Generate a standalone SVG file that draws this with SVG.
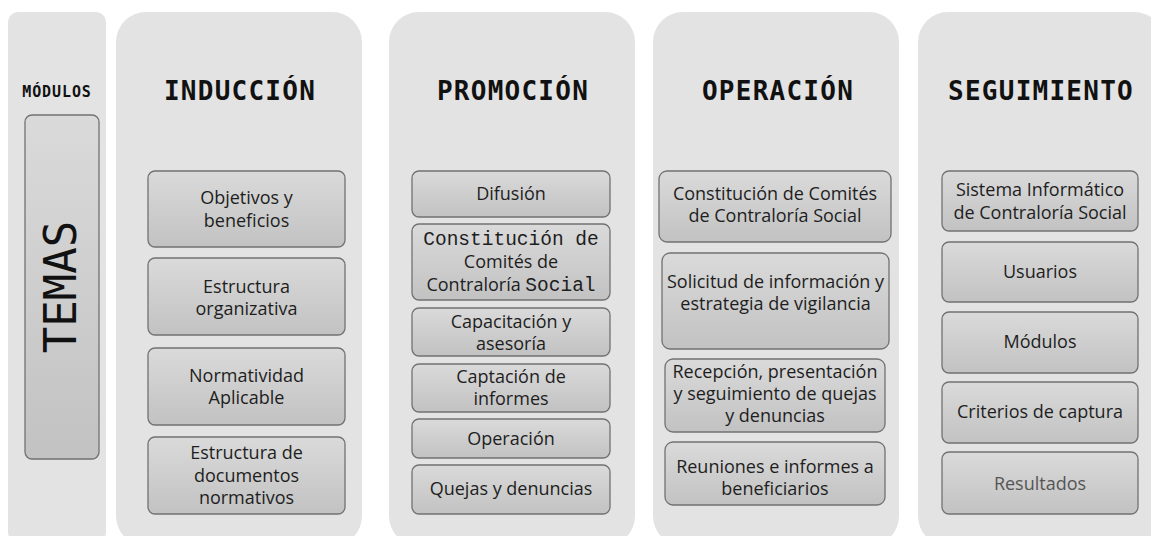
<svg xmlns="http://www.w3.org/2000/svg" width="1151" height="536" viewBox="0 0 1151 536">
<defs>
<linearGradient id="boxg" x1="0" y1="0" x2="0" y2="1">
<stop offset="0" stop-color="#dadada"/>
<stop offset="1" stop-color="#c2c2c2"/>
</linearGradient>
<style>
.panel{fill:#e3e3e3;}
.box{fill:url(#boxg);stroke:#727272;stroke-width:1.3;}
.hdr{font-family:"DejaVu Sans Mono","Liberation Mono",monospace;font-weight:bold;font-size:26px;letter-spacing:1.25px;fill:#111;text-anchor:middle;}
.mod{font-family:"DejaVu Sans Mono","Liberation Mono",monospace;font-weight:bold;font-size:15px;letter-spacing:0.9px;fill:#111;text-anchor:middle;}
.temas{font-family:"DejaVu Sans Mono","Liberation Mono",monospace;font-size:44px;fill:#111;text-anchor:middle;}
.t{font-family:"Open Sans","Noto Sans","Liberation Sans",sans-serif;font-size:18px;fill:#1e1e1e;text-anchor:middle;}
.m{font-family:"Liberation Mono","DejaVu Sans Mono",monospace;font-size:19.5px;}
.grey{fill:#555;}
</style>
</defs>
<rect width="1151" height="536" fill="#ffffff"/>

<g id="modulos">
<rect class="panel" x="8" y="12" width="98" height="530" rx="10"/>
<text class="mod" x="57" y="97">MÓDULOS</text>
<g id="temas">
<rect class="box" x="25" y="115" width="74" height="344" rx="7"/>
<text class="temas" transform="translate(76,287) rotate(-90)">TEMAS</text>
</g>
</g>

<g id="induccion">
<rect class="panel" x="116" y="12" width="246" height="534" rx="30"/>
<text class="hdr" x="240" y="100">INDUCCIÓN</text>
<g id="ind1"><rect class="box" x="148" y="171" width="197" height="76" rx="7"/>
<text class="t" x="246.5" y="204">Objetivos y</text><text class="t" x="246.5" y="227">beneficios</text></g>
<g id="ind2"><rect class="box" x="148" y="258" width="197" height="77" rx="7"/>
<text class="t" x="246.5" y="293">Estructura</text><text class="t" x="246.5" y="315">organizativa</text></g>
<g id="ind3"><rect class="box" x="148" y="348" width="197" height="77" rx="7"/>
<text class="t" x="246.5" y="382">Normatividad</text><text class="t" x="246.5" y="404">Aplicable</text></g>
<g id="ind4"><rect class="box" x="148" y="437" width="197" height="77" rx="7"/>
<text class="t" x="246.5" y="459">Estructura de</text><text class="t" x="246.5" y="482">documentos</text><text class="t" x="246.5" y="504">normativos</text></g>
</g>

<g id="promocion">
<rect class="panel" x="389" y="12" width="246" height="534" rx="30"/>
<text class="hdr" x="513" y="100">PROMOCIÓN</text>
<g id="pro1"><rect class="box" x="412" y="171" width="198" height="46" rx="7"/>
<text class="t" x="511" y="200">Difusión</text></g>
<g id="pro2"><rect class="box" x="412" y="224" width="198" height="76" rx="7"/>
<text class="t m" x="511" y="245">Constitución de</text>
<text class="t" x="511" y="268">Comités de</text>
<text class="t" x="511" y="291">Contraloría <tspan class="m">Social</tspan></text></g>
<g id="pro3"><rect class="box" x="412" y="308" width="198" height="48" rx="7"/>
<text class="t" x="511" y="328">Capacitación y</text><text class="t" x="511" y="350">asesoría</text></g>
<g id="pro4"><rect class="box" x="412" y="364" width="198" height="48" rx="7"/>
<text class="t" x="511" y="383">Captación de</text><text class="t" x="511" y="405">informes</text></g>
<g id="pro5"><rect class="box" x="412" y="419" width="198" height="39" rx="7"/>
<text class="t" x="511" y="445">Operación</text></g>
<g id="pro6"><rect class="box" x="412" y="465" width="198" height="49" rx="7"/>
<text class="t" x="511" y="495">Quejas y denuncias</text></g>
</g>

<g id="operacion">
<rect class="panel" x="653" y="12" width="246" height="534" rx="30"/>
<text class="hdr" x="778" y="100">OPERACIÓN</text>
<g id="op1"><rect class="box" x="659" y="171" width="232" height="71" rx="8"/>
<text class="t" x="775" y="200">Constitución de Comités</text><text class="t" x="775" y="222">de Contraloría Social</text></g>
<g id="op2"><rect class="box" x="662" y="253" width="227" height="96" rx="8"/>
<text class="t" x="775.5" y="288">Solicitud de información y</text><text class="t" x="775.5" y="310">estrategia de vigilancia</text></g>
<g id="op3"><rect class="box" x="665" y="359" width="220" height="73" rx="8"/>
<text class="t" x="775" y="378">Recepción, presentación</text><text class="t" x="775" y="400">y seguimiento de quejas</text><text class="t" x="775" y="422">y denuncias</text></g>
<g id="op4"><rect class="box" x="665" y="442" width="220" height="63" rx="8"/>
<text class="t" x="775" y="473">Reuniones e informes a</text><text class="t" x="775" y="495">beneficiarios</text></g>
</g>

<g id="seguimiento">
<rect class="panel" x="918" y="12" width="246" height="534" rx="30"/>
<text class="hdr" x="1041" y="100">SEGUIMIENTO</text>
<g id="seg1"><rect class="box" x="942" y="171" width="196" height="60" rx="7"/>
<text class="t" x="1040" y="196">Sistema Informático</text><text class="t" x="1040" y="219">de Contraloría Social</text></g>
<g id="seg2"><rect class="box" x="942" y="242" width="196" height="60" rx="7"/>
<text class="t" x="1040" y="278">Usuarios</text></g>
<g id="seg3"><rect class="box" x="942" y="312" width="196" height="61" rx="7"/>
<text class="t" x="1040" y="348">Módulos</text></g>
<g id="seg4"><rect class="box" x="942" y="382" width="196" height="61" rx="7"/>
<text class="t" x="1040" y="418">Criterios de captura</text></g>
<g id="seg5"><rect class="box" x="942" y="452" width="196" height="62" rx="7"/>
<text class="t grey" x="1040" y="490">Resultados</text></g>
</g>
</svg>
